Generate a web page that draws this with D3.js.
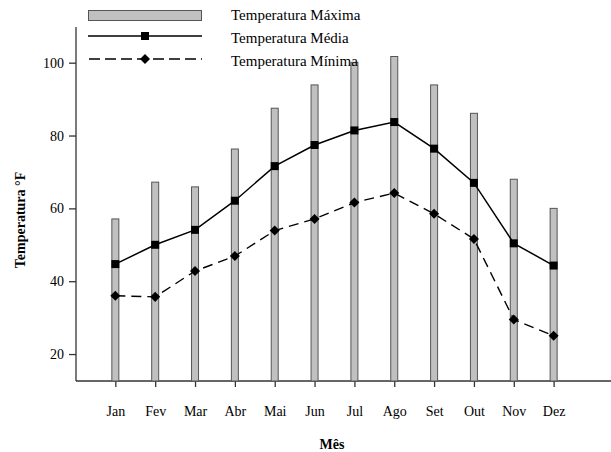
<!DOCTYPE html>
<html><head><meta charset="utf-8">
<script src="https://cdn.jsdelivr.net/npm/d3@7"></script>
<style>body{margin:0;background:#fff}svg{display:block}text{font-family:"Liberation Serif","Times New Roman",serif}</style>
</head><body><svg id="c" width="611" height="452"></svg>
<script>
const months = ["Jan","Fev","Mar","Abr","Mai","Jun","Jul","Ago","Set","Out","Nov","Dez"];
const tempMax = [57.1,67.2,65.9,76.3,87.5,93.9,100.1,101.7,93.9,86.1,68.0,60.0];
const tempMed = [44.7,50.0,54.1,62.1,71.6,77.4,81.4,83.7,76.4,67.0,50.4,44.3];
const tempMin = [36.0,35.7,42.8,46.9,53.9,57.1,61.6,64.2,58.5,51.6,29.5,25.0];
const yTicks = [20,40,60,80,100];
const legendLabels = ["Temperatura Máxima","Temperatura Média","Temperatura Mínima"];

const svg = d3.select("#c");
const x = d3.scaleLinear().domain([0, 13.44]).range([75.5, 611]);
const y = d3.scaleLinear().domain([12.6, 109.8]).range([381, 27]);

// axes
const ya = svg.append("g").attr("transform","translate(76,0)")
  .call(d3.axisLeft(y).tickValues(yTicks).tickSize(7).tickPadding(5));
ya.select(".domain").attr("d","M0,"+y.range()[1]+"V"+y.range()[0]);
const xa = svg.append("g").attr("transform","translate(0,381)")
  .call(d3.axisBottom(x).tickValues(d3.range(1,13)).tickFormat(d=>months[d-1]).tickSize(6).tickPadding(19));
xa.select(".domain").attr("d","M76,0H611");
svg.selectAll("g").attr("font-family",null).attr("font-size",null);
svg.selectAll(".tick text").attr("font-size",14).attr("fill","#000");
svg.selectAll(".domain, .tick line").attr("stroke","#333").attr("stroke-width",1.3);

// bars
svg.append("g").selectAll("rect").data(tempMax).join("rect")
  .attr("x",(d,i)=>x(i+1)-3.5).attr("width",7)
  .attr("y",d=>y(d)).attr("height",d=>y(12.6)-y(d))
  .attr("fill","#c0c0c0").attr("stroke","#555").attr("stroke-width",1);

const line = d3.line().x((d,i)=>x(i+1)).y(d=>y(d));
svg.append("path").datum(tempMin).attr("d",line).attr("fill","none")
  .attr("stroke","#000").attr("stroke-width",1.4).attr("stroke-dasharray","10,6");
svg.append("path").datum(tempMed).attr("d",line).attr("fill","none")
  .attr("stroke","#000").attr("stroke-width",1.5);

const sq = d3.symbol().type(d3.symbolSquare).size(64);
const dm = d3.symbol().type(d3.symbolDiamond2).size(64);
svg.append("g").selectAll("path").data(tempMed).join("path")
  .attr("d",sq).attr("transform",(d,i)=>`translate(${x(i+1)},${y(d)})`).attr("fill","#000");
svg.append("g").selectAll("path").data(tempMin).join("path")
  .attr("d",dm).attr("transform",(d,i)=>`translate(${x(i+1)},${y(d)})`).attr("fill","#000");

// legend
const lg = svg.append("g");
lg.append("rect").attr("x",88.5).attr("y",10.5).attr("width",113).attr("height",10)
  .attr("fill","#c0c0c0").attr("stroke","#555");
lg.append("line").attr("x1",88).attr("x2",202).attr("y1",36).attr("y2",36).attr("stroke","#000").attr("stroke-width",1.5);
lg.append("path").attr("d",sq).attr("transform","translate(145,36)");
lg.append("line").attr("x1",89).attr("x2",202).attr("y1",59).attr("y2",59).attr("stroke","#000").attr("stroke-width",1.4).attr("stroke-dasharray","11,5");
lg.append("path").attr("d",dm).attr("transform","translate(145,59)");
lg.selectAll("text").data(legendLabels).join("text")
  .attr("x",231).attr("y",(d,i)=>20+i*23).attr("font-size",15).text(d=>d);

// titles
svg.append("text").attr("transform","translate(25,220) rotate(-90)").attr("text-anchor","middle")
  .attr("font-weight","bold").attr("font-size",14).text("Temperatura °F");
svg.append("text").attr("x",332).attr("y",449).attr("text-anchor","middle")
  .attr("font-weight","bold").attr("font-size",14).text("Mês");
</script></body></html>
